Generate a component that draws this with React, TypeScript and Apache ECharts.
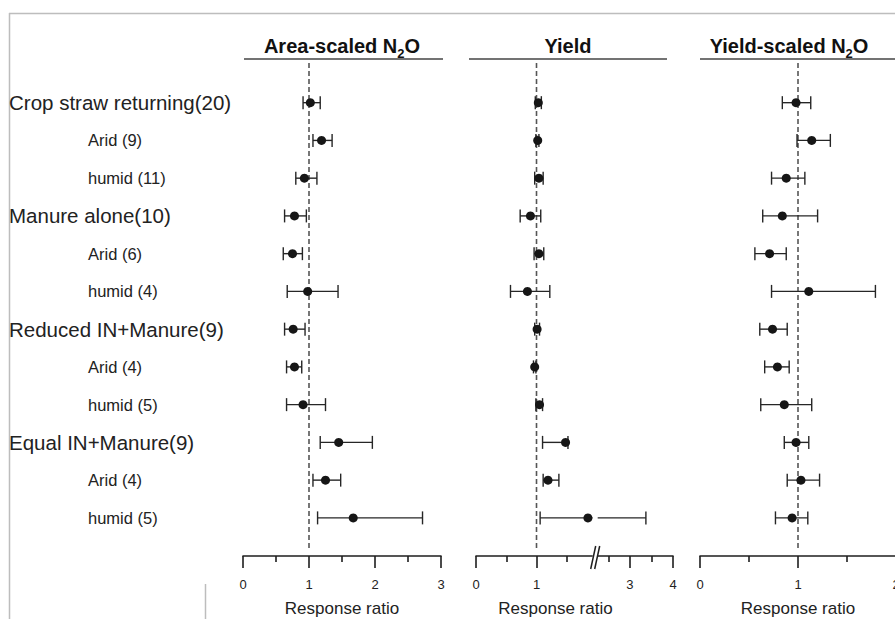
import React, { useEffect, useRef } from "react";
import * as echarts from "echarts";

// ---------- data ----------
const ROWS = [
  "Crop straw returning(20)", "Arid (9)", "humid (11)",
  "Manure alone(10)", "Arid (6)", "humid (4)",
  "Reduced IN+Manure(9)", "Arid (4)", "humid (5)",
  "Equal IN+Manure(9)", "Arid (4)", "humid (5)",
];
const INDENTED = [false, true, true, false, true, true, false, true, true, false, true, true];

const areaMean = [1.02, 1.19, 0.93, 0.78, 0.75, 0.98, 0.76, 0.78, 0.91, 1.45, 1.25, 1.67];
const areaLow = [0.91, 1.06, 0.80, 0.63, 0.61, 0.67, 0.63, 0.66, 0.66, 1.17, 1.06, 1.13];
const areaHigh = [1.17, 1.35, 1.12, 0.96, 0.90, 1.44, 0.94, 0.89, 1.25, 1.96, 1.48, 2.72];

const yieldMean = [1.03, 1.02, 1.04, 0.90, 1.04, 0.85, 1.01, 0.97, 1.05, 1.48, 1.19, 1.85];
const yieldLow = [0.98, 0.99, 0.97, 0.73, 0.96, 0.57, 0.97, 0.95, 0.99, 1.10, 1.11, 1.06];
const yieldHigh = [1.08, 1.04, 1.11, 1.07, 1.12, 1.22, 1.05, 0.99, 1.10, 1.52, 1.37, 3.37];

const ysMean = [0.98, 1.14, 0.88, 0.84, 0.71, 1.11, 0.74, 0.79, 0.86, 0.98, 1.03, 0.94];
const ysLow = [0.84, 0.99, 0.73, 0.64, 0.56, 0.73, 0.61, 0.66, 0.62, 0.86, 0.89, 0.77];
const ysHigh = [1.13, 1.33, 1.07, 1.20, 0.88, 1.79, 0.89, 0.91, 1.14, 1.11, 1.22, 1.10];

const AREA_TICKS = [0, 1, 2, 3];
const YIELD_TICK_LABELS = [0, 1, 3, 4];
const YIELD_MINOR = [0.5, 1.5, 2.5, 3.5];
const YS_TICKS = [0, 1, 2];

const HEADERS = ["Area-scaled N", "Yield", "Yield-scaled N"];
const AXIS_NAME = "Response ratio";

// broken yield axis: linear up to the break, compressed scale after it
const BREAK_V = 1.97;
const D_AT_3 = 2.545;
const K_RIGHT = 0.711;
const toD = (v: number) => (v <= BREAK_V ? v : D_AT_3 + (v - 3) * K_RIGHT);
const YD_MAX = toD(4);

const Y_MIN = -1.157;
const Y_MAX = 12.01;

const FONT = "'Liberation Sans', Arial, Helvetica, sans-serif";
const INK = "#1e1e1e";

function errData(lo: number[], hi: number[], map: (v: number) => number) {
  return lo.map((l, i) => [map(l), map(hi[i]), i]);
}

function errRender(params: any, api: any) {
  const a = api.coord([api.value(0), api.value(2)]);
  const b = api.coord([api.value(1), api.value(2)]);
  const h = 6.5;
  const st = { stroke: "#262626", lineWidth: 1.4 };
  return {
    type: "group",
    children: [
      { type: "line", shape: { x1: a[0], y1: a[1], x2: b[0], y2: b[1] }, style: st },
      { type: "line", shape: { x1: a[0], y1: a[1] - h, x2: a[0], y2: a[1] + h }, style: st },
      { type: "line", shape: { x1: b[0], y1: b[1] - h, x2: b[0], y2: b[1] + h }, style: st },
    ],
  };
}

export default function App() {
  const ref = useRef<HTMLDivElement>(null);

  useEffect(() => {
    if (!ref.current) return;
    const chart = echarts.init(ref.current, undefined, { renderer: "svg" });

    const xCommon = {
      type: "value",
      splitLine: { show: false },
      axisLine: { show: true, onZero: false, lineStyle: { color: INK, width: 1.6 } },
      axisTick: { show: true, length: 12, lineStyle: { color: INK, width: 1.6 } },
      axisLabel: { margin: 22, fontSize: 13, color: "#222", fontFamily: FONT, verticalAlign: "top" },
      name: AXIS_NAME,
      nameLocation: "middle",
      nameGap: 44,
      nameMoveOverlap: false,
      nameTextStyle: { fontSize: 17, color: "#222", fontFamily: FONT, verticalAlign: "top" },
    };
    const minor = { show: true, splitNumber: 2, length: 6, lineStyle: { color: INK, width: 1.6 } };

    const yieldMajorD = YIELD_TICK_LABELS.map(toD);
    const yieldMinorD = YIELD_MINOR.map(toD);

    const panels = [
      { mean: areaMean, lo: areaLow, hi: areaHigh, map: (v: number) => v, xi: 0 },
      { mean: yieldMean, lo: yieldLow, hi: yieldHigh, map: toD, xi: 1 },
      { mean: ysMean, lo: ysLow, hi: ysHigh, map: (v: number) => v, xi: 2 },
    ];

    const series: any[] = [];
    panels.forEach((p, k) => {
      series.push({
        type: "line",
        xAxisIndex: p.xi,
        yAxisIndex: k,
        data: [[p.map(1), -1.05], [p.map(1), 11.85]],
        showSymbol: false,
        symbol: "none",
        lineStyle: { color: "#555", width: 1.6, type: [5, 3] },
        z: 1,
      });
      series.push({
        type: "custom",
        xAxisIndex: p.xi,
        yAxisIndex: k,
        data: errData(p.lo, p.hi, p.map),
        encode: { x: [0, 1], y: 2 },
        renderItem: errRender,
        clip: false,
        z: 3,
      });
      series.push({
        type: "scatter",
        xAxisIndex: p.xi,
        yAxisIndex: k,
        data: p.mean.map((m, i) => [p.map(m), i]),
        symbol: "circle",
        symbolSize: 9,
        itemStyle: { color: "#161616", opacity: 1 },
        z: 4,
      });
    });

    // axis break marks on the yield panel
    series.push({
      type: "custom",
      xAxisIndex: 1,
      yAxisIndex: 1,
      data: [[toD(BREAK_V), Y_MAX, 11]],
      encode: { x: 0, y: 1 },
      clip: false,
      z: 6,
      renderItem: (params: any, api: any) => {
        const p = api.coord([api.value(0), api.value(1)]);
        const r = api.coord([api.value(0), api.value(2)]);
        const cx = p[0];
        const cy = p[1];
        const st = { stroke: INK, lineWidth: 1.5 };
        return {
          type: "group",
          children: [
            { type: "rect", shape: { x: cx - 2.5, y: cy - 2, width: 5, height: 4 }, style: { fill: "#fff" } },
            { type: "rect", shape: { x: cx - 2.5, y: r[1] - 2, width: 5, height: 4 }, style: { fill: "#fff" } },
            { type: "line", shape: { x1: cx - 4.5, y1: cy + 13, x2: cx + 0.5, y2: cy - 10 }, style: st },
            { type: "line", shape: { x1: cx - 0.5, y1: cy + 13, x2: cx + 4.5, y2: cy - 10 }, style: st },
          ],
        };
      },
    });

    const headerRich = {
      t: { fontSize: 20, fontWeight: "bold", fontFamily: FONT, fill: "#111", lineHeight: 28 },
      s: { fontSize: 13, fontWeight: "bold", fontFamily: FONT, fill: "#111", verticalAlign: "bottom" },
    };
    const headerLine = { stroke: "#444", lineWidth: 1.6 };
    const frame = { stroke: "#bdbdbd", lineWidth: 1.5 };

    const option: any = {
      animation: false,
      backgroundColor: "#fff",
      grid: [
        { left: 243, top: 59, width: 198, height: 497, outerBoundsMode: "none", containLabel: false },
        { left: 476, top: 59, width: 197, height: 497, outerBoundsMode: "none", containLabel: false },
        { left: 700, top: 59, width: 196, height: 497, outerBoundsMode: "none", containLabel: false },
      ],
      xAxis: [
        {
          ...xCommon,
          gridIndex: 0,
          min: AREA_TICKS[0],
          max: AREA_TICKS[AREA_TICKS.length - 1],
          interval: 1,
          minorTick: minor,
        },
        {
          ...xCommon,
          gridIndex: 1,
          min: 0,
          max: YD_MAX,
          axisTick: { ...xCommon.axisTick, customValues: yieldMajorD },
          axisLabel: {
            ...xCommon.axisLabel,
            customValues: yieldMajorD,
            formatter: (v: number) => {
              let best = 0;
              yieldMajorD.forEach((d, i) => {
                if (Math.abs(d - v) < Math.abs(yieldMajorD[best] - v)) best = i;
              });
              return String(YIELD_TICK_LABELS[best]);
            },
          },
          nameTextStyle: { ...xCommon.nameTextStyle, padding: [0, 38, 0, 0] },
        },
        {
          ...xCommon,
          gridIndex: 2,
          min: YS_TICKS[0],
          max: YS_TICKS[YS_TICKS.length - 1],
          interval: 1,
          minorTick: minor,
        },
        {
          type: "value",
          gridIndex: 1,
          position: "bottom",
          min: 0,
          max: YD_MAX,
          splitLine: { show: false },
          axisLine: { show: false, onZero: false },
          axisLabel: { show: false },
          axisTick: { show: true, length: 6, customValues: yieldMinorD, lineStyle: { color: INK, width: 1.6 } },
        },
      ],
      yAxis: [
        {
          type: "value",
          gridIndex: 0,
          inverse: true,
          min: Y_MIN,
          max: Y_MAX,
          splitLine: { show: false },
          axisLine: { show: false },
          axisTick: { show: false },
          axisLabel: {
            customValues: ROWS.map((_, i) => i),
            align: "left",
            margin: 234,
            formatter: (v: number) => {
              const i = Math.round(v);
              return INDENTED[i] ? `{i|${ROWS[i]}}` : `{m|${ROWS[i]}}`;
            },
            rich: {
              m: { fontSize: 20.5, color: "#222", fontFamily: FONT },
              i: { fontSize: 16.5, color: "#222", fontFamily: FONT, padding: [0, 0, 0, 79] },
            },
          },
        },
        { type: "value", gridIndex: 1, inverse: true, min: Y_MIN, max: Y_MAX, show: false },
        { type: "value", gridIndex: 2, inverse: true, min: Y_MIN, max: Y_MAX, show: false },
      ],
      graphic: [
        { type: "line", shape: { x1: 9, y1: 13.5, x2: 895, y2: 13.5 }, style: frame, silent: true },
        { type: "line", shape: { x1: 9.5, y1: 13, x2: 9.5, y2: 619 }, style: frame, silent: true },
        { type: "line", shape: { x1: 205.5, y1: 584, x2: 205.5, y2: 619 }, style: frame, silent: true },
        { type: "line", shape: { x1: 244, y1: 59, x2: 443, y2: 59 }, style: headerLine },
        { type: "line", shape: { x1: 469, y1: 59, x2: 667, y2: 59 }, style: headerLine },
        { type: "line", shape: { x1: 700, y1: 59, x2: 895, y2: 59 }, style: headerLine },
        {
          type: "text",
          x: 342,
          y: 46,
          style: { text: `{t|${HEADERS[0]}}{s|2}{t|O}`, rich: headerRich, align: "center", verticalAlign: "middle" },
        },
        {
          type: "text",
          x: 568,
          y: 46,
          style: { text: `{t|${HEADERS[1]}}`, rich: headerRich, align: "center", verticalAlign: "middle" },
        },
        {
          type: "text",
          x: 789,
          y: 46,
          style: { text: `{t|${HEADERS[2]}}{s|2}{t|O}`, rich: headerRich, align: "center", verticalAlign: "middle" },
        },
      ],
      series,
    };

    chart.setOption(option);
    return () => chart.dispose();
  }, []);

  return (
    <div
      ref={ref}
      style={{ position: "fixed", left: 0, top: 0, width: 895, height: 619, background: "#fff" }}
    />
  );
}
